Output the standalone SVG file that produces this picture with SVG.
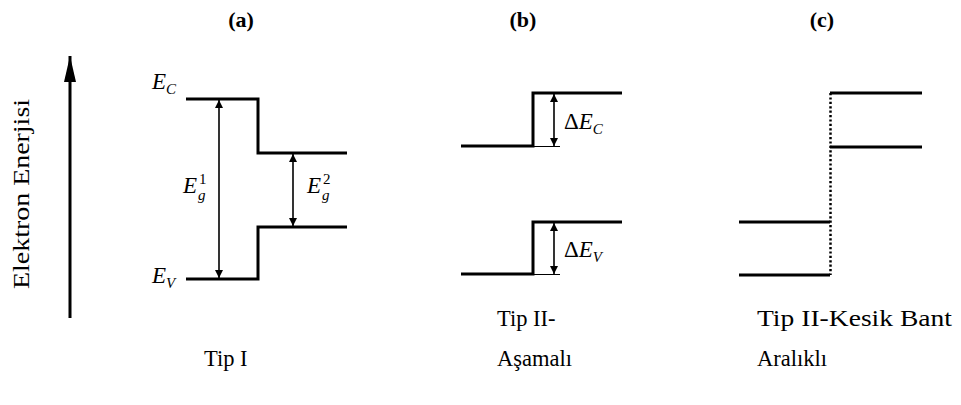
<svg xmlns="http://www.w3.org/2000/svg" width="961" height="405" viewBox="0 0 961 405">
<style>
.band{fill:none;stroke:#000;stroke-width:3;stroke-linecap:butt;stroke-linejoin:miter}
.thin{fill:none;stroke:#000;stroke-width:1}
.dim{fill:none;stroke:#000;stroke-width:1.6;marker-start:url(#ah);marker-end:url(#ah)}
.dot{fill:none;stroke:#000;stroke-width:2.5;stroke-dasharray:2.2,2.2}
.lbl{font-family:"Liberation Serif","Times New Roman",serif;font-size:22.5px;fill:#000}
.ttl{font-family:"Liberation Serif","Times New Roman",serif;font-size:22px;font-weight:bold;fill:#000;text-anchor:middle}
.m{font-family:"Liberation Serif","Times New Roman",serif;font-style:italic;font-size:23px;fill:#000}
.s{font-size:15px}
.u{font-style:normal}
</style>
<defs>
<marker id="ah" viewBox="0 0 10 10" refX="10" refY="5" markerWidth="10" markerHeight="8" markerUnits="userSpaceOnUse" orient="auto-start-reverse">
<path d="M0,0 L10,5 L0,10 z" fill="#000"/>
</marker>
<marker id="big" viewBox="0 0 26 12" refX="26" refY="6" markerWidth="26" markerHeight="12" markerUnits="userSpaceOnUse" orient="auto">
<path d="M0,0 L26,6 L0,12 z" fill="#000"/>
</marker>
</defs>

<g id="titles">
<text class="ttl" x="241" y="27">(a)</text>
<text class="ttl" x="523" y="27">(b)</text>
<text class="ttl" x="822" y="27">(c)</text>
</g>

<g id="axis">
<line x1="70" y1="318" x2="70" y2="56" stroke="#000" stroke-width="3" marker-end="url(#big)"/>
<text class="lbl" transform="translate(29,194) rotate(-90)" text-anchor="middle" font-size="25" textLength="190" lengthAdjust="spacingAndGlyphs">Elektron Enerjisi</text>
</g>

<g id="panel-a">
<path class="band" d="M186,99 H258 V153 H347"/>
<path class="band" d="M186,279 H258 V227 H347"/>
<text class="m" x="152" y="89">E<tspan class="s" dy="5">C</tspan></text>
<text class="m" x="152" y="283">E<tspan class="s" dy="5">V</tspan></text>
<text class="m" x="183" y="193">E<tspan class="s" x="198" y="200">g</tspan><tspan class="s u" x="199" y="184">1</tspan></text>
<text class="m" x="307" y="193">E<tspan class="s" x="322" y="200">g</tspan><tspan class="s u" x="323" y="184">2</tspan></text>
<text class="lbl" x="204" y="366">Tip I</text>
</g>

<g id="panel-b">
<path class="band" d="M461,146 H533 V93 H622"/>
<path class="band" d="M461,274 H533 V222 H622"/>
<line class="thin" x1="533" y1="146.5" x2="560" y2="146.5"/>
<line class="thin" x1="533" y1="274.5" x2="560" y2="274.5"/>
<text class="m" x="564" y="129"><tspan class="u">Δ</tspan>E<tspan class="s" dy="5">C</tspan></text>
<text class="m" x="564" y="257"><tspan class="u">Δ</tspan>E<tspan class="s" dy="5">V</tspan></text>
<text class="lbl" x="497" y="326">Tip II-</text>
<text class="lbl" x="497" y="366">Aşamalı</text>
</g>

<g id="panel-c">
<path class="band" d="M830,93 H922"/>
<path class="band" d="M830,147 H922"/>
<path class="band" d="M739,222 H830"/>
<path class="band" d="M739,275 H830"/>
<line class="dot" x1="830.5" y1="93" x2="830.5" y2="275"/>
<text class="lbl" x="757" y="326" textLength="195" lengthAdjust="spacingAndGlyphs">Tip II-Kesik Bant</text>
<text class="lbl" x="757" y="366">Aralıklı</text>
</g>

<g id="connectors">
<line class="dim" x1="219" y1="100" x2="219" y2="278"/>
<line class="dim" x1="293" y1="154" x2="293" y2="226"/>
<line class="dim" x1="554" y1="94" x2="554" y2="146"/>
<line class="dim" x1="554" y1="223" x2="554" y2="274"/>
</g>
</svg>
